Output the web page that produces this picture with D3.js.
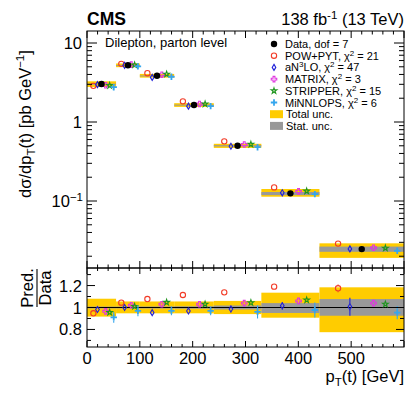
<!DOCTYPE html>
<html>
<head>
<meta charset="utf-8">
<script src="https://cdn.jsdelivr.net/npm/d3@7"></script>
<style>
body { margin: 0; background: #fff; }
text { font-family: "Liberation Sans", Arial, Helvetica, sans-serif; fill: #000; }
</style>
</head>
<body>
<div id="main"></div>
<script>
// bin edges of pT(t) [GeV]
var binEdges = [0, 55, 100, 165, 240, 330, 440, 600];
// measured cross section [pb/GeV]
var dataVals = [3.03, 5.22, 3.85, 1.64, 0.50, 0.125, 0.0246];
// relative uncertainties
var totUp  = [0.080, 0.055, 0.055, 0.055, 0.060, 0.135, 0.184];
var totDn  = [0.083, 0.053, 0.053, 0.053, 0.060, 0.093, 0.225];
var statUp = [0.008, 0.008, 0.009, 0.011, 0.018, 0.040, 0.077];
var statDn = [0.008, 0.008, 0.009, 0.011, 0.018, 0.050, 0.075];
// prediction / data
var ratioPow      = [0.947, 1.044, 1.077, 1.114, 1.138, 1.190, 1.175];
var ratioAn3lo    = [0.982, 1.000, 0.953, 0.968, 0.986, 1.016, 1.007];
var ratioMatrix   = [0.965, 1.020, 1.030, 1.030, 1.040, 1.060, 1.040];
var ratioStripper = [0.955, 1.010, 1.047, 1.030, 1.044, 1.068, 1.030];
var ratioMinnlops = [0.910, 0.970, 0.970, 0.970, 0.960, 0.977, 0.953];
var errPow      = [0.010, 0.010, 0.010, 0.012, 0.015, 0.025, 0.035];
var errAn3lo    = [0.010, 0.015, 0.010, 0.020, 0.030, 0.035, 0.083];
var errMatrix   = [0.015, 0.015, 0.015, 0.015, 0.015, 0.015, 0.020];
var errStripper = [0.020, 0.020, 0.020, 0.020, 0.020, 0.020, 0.030];
var errMinnlops = [0.050, 0.050, 0.040, 0.040, 0.060, 0.068, 0.060];
var chi2 = [21, 47, 3, 15, 6];
var xTicks = [0, 100, 200, 300, 400, 500];

var W = 407, H = 394;
var svg = d3.select("#main").append("svg")
	.attr("width", W)
	.attr("height", H);

var x = d3.scaleLinear().domain([0, 600]).range([87, 404]);
var yTop = d3.scaleLog().domain([0.01419, 14.19]).range([268, 31]);
var yRat = d3.scaleLinear().domain([0.64, 1.36]).range([347, 268]);

var models = [
	{ name: "POW+PYT", r: ratioPow, e: errPow, col: "#f23b27", shape: "circle", off: -0.28 },
	{ name: "aN3LO", r: ratioAn3lo, e: errAn3lo, col: "#2020d8", shape: "diamond", off: -0.14 },
	{ name: "MATRIX", r: ratioMatrix, e: errMatrix, col: "#e036e0", shape: "cross", off: 0.14 },
	{ name: "STRIPPER", r: ratioStripper, e: errStripper, col: "#1f961f", shape: "star", off: 0.28 },
	{ name: "MiNNLOPS", r: ratioMinnlops, e: errMinnlops, col: "#35a6ee", shape: "fcross", off: 0.42 }
];

var bins = dataVals.map(function(d, i) {
	return { lo: binEdges[i], hi: binEdges[i + 1], v: d, i: i };
});

function markerPath(shape) {
	if (shape == "circle") return d3.symbol(d3.symbolCircle, 22)();
	if (shape == "diamond") return "M0,-3L1.8,0L0,3L-1.8,0Z";
	if (shape == "cross") return d3.symbol(d3.symbolCross, 17)();
	if (shape == "star") return d3.symbol(d3.symbolStar, 10)();
	return "M-3.2,0H3.2M0,-3.2V3.2";
}

function drawMarker(g, shape, col, cx, cy) {
	var p = g.append("path")
		.attr("d", markerPath(shape))
		.attr("transform", "translate(" + cx + "," + cy + ")")
		.attr("fill", "none")
		.attr("stroke", col);
	p.attr("stroke-width", shape == "fcross" ? 1.8 : 1.1);
}

function xc(b, off) {
	return x((b.lo + b.hi) / 2) + off * (x(b.hi) - x(b.lo));
}

// ---------- top panel ----------
var topG = svg.append("g");
bins.forEach(function(b) {
	topG.append("rect")
		.attr("x", x(b.lo)).attr("width", x(b.hi) - x(b.lo))
		.attr("y", yTop(b.v * (1 + totUp[b.i])))
		.attr("height", yTop(b.v * (1 - totDn[b.i])) - yTop(b.v * (1 + totUp[b.i])))
		.attr("fill", "#ffcc00");
	topG.append("rect")
		.attr("x", x(b.lo)).attr("width", x(b.hi) - x(b.lo))
		.attr("y", yTop(b.v * (1 + statUp[b.i])))
		.attr("height", Math.max(1, yTop(b.v * (1 - statDn[b.i])) - yTop(b.v * (1 + statUp[b.i]))))
		.attr("fill", "#999999");
});
bins.forEach(function(b) {
	models.forEach(function(m) {
		drawMarker(topG, m.shape, m.col, xc(b, m.off), yTop(b.v * m.r[b.i]));
	});
	topG.append("circle")
		.attr("cx", xc(b, 0)).attr("cy", yTop(b.v))
		.attr("r", 3.2).attr("fill", "#000");
});

// ---------- ratio panel ----------
var ratG = svg.append("g");
bins.forEach(function(b) {
	ratG.append("rect")
		.attr("x", x(b.lo)).attr("width", x(b.hi) - x(b.lo))
		.attr("y", yRat(1 + totUp[b.i]))
		.attr("height", yRat(1 - totDn[b.i]) - yRat(1 + totUp[b.i]))
		.attr("fill", "#ffcc00");
	ratG.append("rect")
		.attr("x", x(b.lo)).attr("width", x(b.hi) - x(b.lo))
		.attr("y", yRat(1 + statUp[b.i]))
		.attr("height", yRat(1 - statDn[b.i]) - yRat(1 + statUp[b.i]))
		.attr("fill", "#999999");
});
ratG.append("line")
	.attr("x1", x(0)).attr("x2", x(600))
	.attr("y1", yRat(1)).attr("y2", yRat(1))
	.attr("stroke", "#000").attr("stroke-width", 1.2);
bins.forEach(function(b) {
	models.forEach(function(m) {
		var cx = xc(b, m.off), v = m.r[b.i], e = m.e[b.i];
		var cy = yRat(v), gap = 3;
		if (yRat(v - e) - cy > gap)
			ratG.append("line").attr("x1", cx).attr("x2", cx)
				.attr("y1", cy + gap).attr("y2", yRat(v - e))
				.attr("stroke", m.col).attr("stroke-width", 1.1);
		if (cy - yRat(v + e) > gap)
			ratG.append("line").attr("x1", cx).attr("x2", cx)
				.attr("y1", cy - gap).attr("y2", yRat(v + e))
				.attr("stroke", m.col).attr("stroke-width", 1.1);
		drawMarker(ratG, m.shape, m.col, cx, cy);
	});
});

// ---------- frames and ticks ----------
var ax = svg.append("g").attr("stroke", "#000").attr("stroke-width", 1);
ax.append("rect").attr("x", 87).attr("y", 31).attr("width", 317).attr("height", 237).attr("fill", "none");
ax.append("rect").attr("x", 87).attr("y", 268).attr("width", 317).attr("height", 79).attr("fill", "none");

function vTick(xp, y0, len) {
	ax.append("line").attr("x1", xp).attr("x2", xp).attr("y1", y0).attr("y2", y0 + len);
}
function hTick(yp, x0, len) {
	ax.append("line").attr("y1", yp).attr("y2", yp).attr("x1", x0).attr("x2", x0 + len);
}

d3.range(0, 601, 20).forEach(function(v) {
	var major = v % 100 == 0;
	vTick(x(v), 31, major ? 7 : 3.5);
	vTick(x(v), 268, major ? -7 : -3.5);
	vTick(x(v), 268, major ? 6 : 3);
	vTick(x(v), 347, major ? -6 : -3);
});

[-2, -1, 0, 1].forEach(function(d) {
	d3.range(1, 10).forEach(function(k) {
		var v = k * Math.pow(10, d);
		if (v < yTop.domain()[0] || v > yTop.domain()[1]) return;
		var len = k == 1 ? 10 : 5;
		hTick(yTop(v), 87, len);
		hTick(yTop(v), 404, -len);
	});
});

[0.7, 0.8, 0.9, 1.0, 1.1, 1.2, 1.3].forEach(function(v, i) {
	var len = i % 2 == 1 ? 8 : 4;
	hTick(yRat(v), 87, len);
	hTick(yRat(v), 404, -len);
});

// ---------- tick labels ----------
var lab = svg.append("g").style("font-size", "16.5px");
xTicks.forEach(function(v) {
	lab.append("text").attr("x", x(v)).attr("y", 364)
		.attr("text-anchor", "middle").text(v);
});
lab.append("text").attr("x", 82).attr("y", yTop(10) + 6).attr("text-anchor", "end").text("10");
lab.append("text").attr("x", 82).attr("y", yTop(1) + 6).attr("text-anchor", "end").text("1");
var tm = lab.append("text").attr("x", 83).attr("y", yTop(0.1) + 6).attr("text-anchor", "end");
tm.append("tspan").text("10");
tm.append("tspan").attr("dy", -6).style("font-size", "11.5px").text("\u22121");

[0.8, 1, 1.2].forEach(function(v) {
	lab.append("text").attr("x", 82).attr("y", yRat(v) + 6)
		.attr("text-anchor", "end").text(v == 1 ? "1" : v.toFixed(1));
});

// ---------- axis titles ----------
var yt = svg.append("text")
	.attr("transform", "translate(31,124) rotate(-90)")
	.attr("text-anchor", "middle")
	.style("font-size", "16.5px");
yt.append("tspan").text("d\u03c3/dp");
yt.append("tspan").attr("dy", 4).style("font-size", "11.5px").text("T");
yt.append("tspan").attr("dy", -4).text("(t) [pb GeV");
yt.append("tspan").attr("dy", -7).style("font-size", "11.5px").text("\u22121");
yt.append("tspan").attr("dy", 7).text("]");

var rt = svg.append("g").attr("transform", "translate(0,288) rotate(-90)");
rt.append("text").attr("x", 0).attr("y", 33).attr("text-anchor", "middle")
	.style("font-size", "16.5px").text("Pred.");
rt.append("line").attr("x1", -19).attr("x2", 19).attr("y1", 37).attr("y2", 37)
	.attr("stroke", "#000").attr("stroke-width", 1.1);
rt.append("text").attr("x", 0).attr("y", 51).attr("text-anchor", "middle")
	.style("font-size", "16.5px").text("Data");

var xt = svg.append("text").attr("x", 404).attr("y", 382)
	.attr("text-anchor", "end").style("font-size", "16.5px");
xt.append("tspan").text("p");
xt.append("tspan").attr("dy", 4).style("font-size", "11.5px").text("T");
xt.append("tspan").attr("dy", -4).text("(t) [GeV]");

// ---------- header ----------
svg.append("text").attr("x", 87).attr("y", 25)
	.style("font-size", "17.5px").style("font-weight", "bold").text("CMS");
var lumi = svg.append("text").attr("x", 404).attr("y", 25)
	.attr("text-anchor", "end").style("font-size", "16.5px");
lumi.append("tspan").text("138 fb");
lumi.append("tspan").attr("dy", -6).style("font-size", "11.5px").text("-1");
lumi.append("tspan").attr("dy", 6).text(" (13 TeV)");

svg.append("text").attr("x", 105).attr("y", 47)
	.style("font-size", "13px").text("Dilepton, parton level");

// ---------- legend ----------
var leg = svg.append("g").style("font-size", "11px");
var rowY = function(i) { return 44 + i * 11.7; };
leg.append("circle").attr("cx", 274).attr("cy", rowY(0)).attr("r", 3.2).attr("fill", "#000");
leg.append("text").attr("x", 285).attr("y", rowY(0) + 4).text("Data, dof = 7");
models.forEach(function(m, i) {
	drawMarker(leg, m.shape, m.col, 274, rowY(i + 1));
	var t = leg.append("text").attr("x", 285).attr("y", rowY(i + 1) + 4);
	if (m.name == "aN3LO") {
		t.append("tspan").text("aN");
		t.append("tspan").attr("dy", -4).style("font-size", "8px").text("3");
		t.append("tspan").attr("dy", 4).text("LO");
	} else {
		t.append("tspan").text(m.name);
	}
	t.append("tspan").text(", \u03c7");
	t.append("tspan").attr("dy", -4).style("font-size", "8px").text("2");
	t.append("tspan").attr("dy", 4).text(" = " + chi2[i]);
});
leg.append("rect").attr("x", 270).attr("y", rowY(6) - 4).attr("width", 13).attr("height", 8).attr("fill", "#ffcc00");
leg.append("text").attr("x", 286).attr("y", rowY(6) + 4).text("Total unc.");
leg.append("rect").attr("x", 270).attr("y", rowY(7) - 4).attr("width", 13).attr("height", 8).attr("fill", "#999999");
leg.append("text").attr("x", 286).attr("y", rowY(7) + 4).text("Stat. unc.");
</script>
</body>
</html>
